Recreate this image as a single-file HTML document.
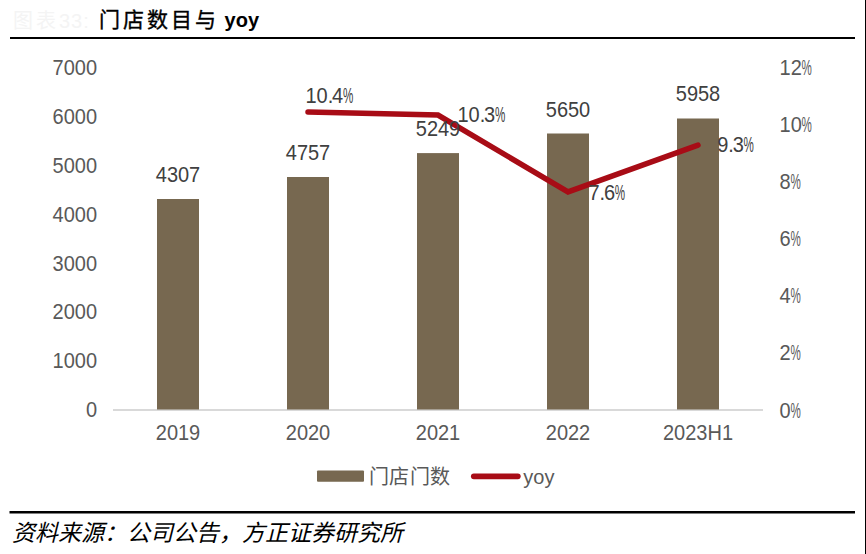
<!DOCTYPE html>
<html lang="zh-CN"><head><meta charset="utf-8"><style>
html,body{margin:0;padding:0;background:#fff;width:866px;height:554px;overflow:hidden}
svg{display:block}
.ls{font-family:"Liberation Sans",sans-serif}
.cjk{font-family:"Liberation Sans",sans-serif}
.it{font-style:italic;font-family:"Liberation Serif",serif}
</style></head><body>
<svg width="866" height="554" viewBox="0 0 866 554">
<rect width="866" height="554" fill="#fff"/>
<text x="12.5" y="28" class="cjk" font-size="20" letter-spacing="3" fill="#f4f4f4">图表</text>
<text x="59" y="28" class="ls" font-size="20" letter-spacing="1" fill="#f4f4f4">33:</text>
<text x="98.5" y="26.9" class="cjk" font-size="21" letter-spacing="3" fill="#000" stroke="#000" stroke-width="0.35">门店数目与</text>
<text x="224.6" y="26.5" class="ls" font-weight="bold" font-size="20" fill="#000">yoy</text>
<rect x="10" y="37" width="845" height="2" fill="#000"/>
<rect x="865" y="0" width="1" height="554" fill="#000"/>
<text transform="translate(97.00 417.30) scale(1.0 1.07)" text-anchor="end" class="ls" font-size="20" fill="#595959" >0</text>
<text transform="translate(97.00 368.39) scale(1.0 1.07)" text-anchor="end" class="ls" font-size="20" fill="#595959" >1000</text>
<text transform="translate(97.00 319.48) scale(1.0 1.07)" text-anchor="end" class="ls" font-size="20" fill="#595959" >2000</text>
<text transform="translate(97.00 270.57) scale(1.0 1.07)" text-anchor="end" class="ls" font-size="20" fill="#595959" >3000</text>
<text transform="translate(97.00 221.66) scale(1.0 1.07)" text-anchor="end" class="ls" font-size="20" fill="#595959" >4000</text>
<text transform="translate(97.00 172.75) scale(1.0 1.07)" text-anchor="end" class="ls" font-size="20" fill="#595959" >5000</text>
<text transform="translate(97.00 123.84) scale(1.0 1.07)" text-anchor="end" class="ls" font-size="20" fill="#595959" >6000</text>
<text transform="translate(97.00 74.93) scale(1.0 1.07)" text-anchor="end" class="ls" font-size="20" fill="#595959" >7000</text>
<text transform="translate(779.60 417.50) scale(1.0 1.07)" text-anchor="start" class="ls" font-size="20" fill="#595959" >0</text>
<text transform="translate(790.42 417.50) scale(0.58 1.07)" text-anchor="start" class="ls" font-size="20" fill="#595959" >%</text>
<text transform="translate(779.60 360.40) scale(1.0 1.07)" text-anchor="start" class="ls" font-size="20" fill="#595959" >2</text>
<text transform="translate(790.42 360.40) scale(0.58 1.07)" text-anchor="start" class="ls" font-size="20" fill="#595959" >%</text>
<text transform="translate(779.60 303.30) scale(1.0 1.07)" text-anchor="start" class="ls" font-size="20" fill="#595959" >4</text>
<text transform="translate(790.42 303.30) scale(0.58 1.07)" text-anchor="start" class="ls" font-size="20" fill="#595959" >%</text>
<text transform="translate(779.60 246.20) scale(1.0 1.07)" text-anchor="start" class="ls" font-size="20" fill="#595959" >6</text>
<text transform="translate(790.42 246.20) scale(0.58 1.07)" text-anchor="start" class="ls" font-size="20" fill="#595959" >%</text>
<text transform="translate(779.60 189.10) scale(1.0 1.07)" text-anchor="start" class="ls" font-size="20" fill="#595959" >8</text>
<text transform="translate(790.42 189.10) scale(0.58 1.07)" text-anchor="start" class="ls" font-size="20" fill="#595959" >%</text>
<text transform="translate(779.60 132.00) scale(1.0 1.07)" text-anchor="start" class="ls" font-size="20" fill="#595959" >10</text>
<text transform="translate(801.54 132.00) scale(0.58 1.07)" text-anchor="start" class="ls" font-size="20" fill="#595959" >%</text>
<text transform="translate(779.60 74.90) scale(1.0 1.07)" text-anchor="start" class="ls" font-size="20" fill="#595959" >12</text>
<text transform="translate(801.54 74.90) scale(0.58 1.07)" text-anchor="start" class="ls" font-size="20" fill="#595959" >%</text>
<rect x="113" y="409" width="650" height="2" fill="#d9d9d9"/>
<rect x="157" y="199.0" width="42" height="210.5" fill="#776850"/>
<rect x="287" y="177.0" width="42" height="232.5" fill="#776850"/>
<rect x="417" y="153.1" width="42" height="256.4" fill="#776850"/>
<rect x="547" y="133.5" width="42" height="276.0" fill="#776850"/>
<rect x="677" y="118.5" width="42" height="291.0" fill="#776850"/>
<polyline points="308,112 438,115.1 568,191.9 698,145.2" fill="none" stroke="#A80C16" stroke-width="5.5" stroke-linecap="round" stroke-linejoin="miter"/>
<text transform="translate(178.00 181.99) scale(1.0 1.07)" text-anchor="middle" class="ls" font-size="20" fill="#404040" >4307</text>
<text transform="translate(178.00 440.30) scale(1.0 1.07)" text-anchor="middle" class="ls" font-size="20" fill="#595959" >2019</text>
<text transform="translate(308.00 160.05) scale(1.0 1.07)" text-anchor="middle" class="ls" font-size="20" fill="#404040" >4757</text>
<text transform="translate(308.00 440.30) scale(1.0 1.07)" text-anchor="middle" class="ls" font-size="20" fill="#595959" >2020</text>
<text transform="translate(438.00 136.06) scale(1.0 1.07)" text-anchor="middle" class="ls" font-size="20" fill="#404040" >5249</text>
<text transform="translate(438.00 440.30) scale(1.0 1.07)" text-anchor="middle" class="ls" font-size="20" fill="#595959" >2021</text>
<text transform="translate(568.00 116.51) scale(1.0 1.07)" text-anchor="middle" class="ls" font-size="20" fill="#404040" >5650</text>
<text transform="translate(568.00 440.30) scale(1.0 1.07)" text-anchor="middle" class="ls" font-size="20" fill="#595959" >2022</text>
<text transform="translate(698.00 101.49) scale(1.0 1.07)" text-anchor="middle" class="ls" font-size="20" fill="#404040" >5958</text>
<text transform="translate(698.00 440.30) scale(1.0 1.07)" text-anchor="middle" class="ls" font-size="20" fill="#595959" >2023H1</text>
<text transform="translate(305.40 102.80) scale(1.0 1.07)" text-anchor="start" class="ls" font-size="20" fill="#404040" >10.<tspan dx="-1.1">4</tspan></text>
<text transform="translate(342.92 102.80) scale(0.58 1.07)" text-anchor="start" class="ls" font-size="20" fill="#404040" >%</text>
<text transform="translate(457.40 121.80) scale(1.0 1.07)" text-anchor="start" class="ls" font-size="20" fill="#404040" >10.<tspan dx="-1.1">3</tspan></text>
<text transform="translate(494.92 121.80) scale(0.58 1.07)" text-anchor="start" class="ls" font-size="20" fill="#404040" >%</text>
<text transform="translate(588.40 199.50) scale(1.0 1.07)" text-anchor="start" class="ls" font-size="20" fill="#404040" >7.<tspan dx="-1.1">6</tspan></text>
<text transform="translate(614.80 199.50) scale(0.58 1.07)" text-anchor="start" class="ls" font-size="20" fill="#404040" >%</text>
<text transform="translate(717.20 152.20) scale(1.0 1.07)" text-anchor="start" class="ls" font-size="20" fill="#404040" >9.<tspan dx="-1.1">3</tspan></text>
<text transform="translate(743.60 152.20) scale(0.58 1.07)" text-anchor="start" class="ls" font-size="20" fill="#404040" >%</text>
<rect x="317" y="470.4" width="47" height="11.3" rx="1" fill="#776850"/>
<text x="368.8" y="484" class="cjk" font-size="20" letter-spacing="0.4" fill="#595959">门店门数</text>
<line x1="473.8" y1="476.3" x2="517.8" y2="476.3" stroke="#A80C16" stroke-width="5.7" stroke-linecap="round"/>
<text transform="translate(523.30 483.50) scale(1.0 1.04)" text-anchor="start" class="ls" font-size="20" fill="#595959" >yoy</text>
<rect x="9.5" y="511" width="845.5" height="2.5" fill="#000"/>
<text x="12" y="541" class="cjk it" font-size="23" fill="#000">资料来源：公司公告，方正证券研究所</text>
</svg>
</body></html>
